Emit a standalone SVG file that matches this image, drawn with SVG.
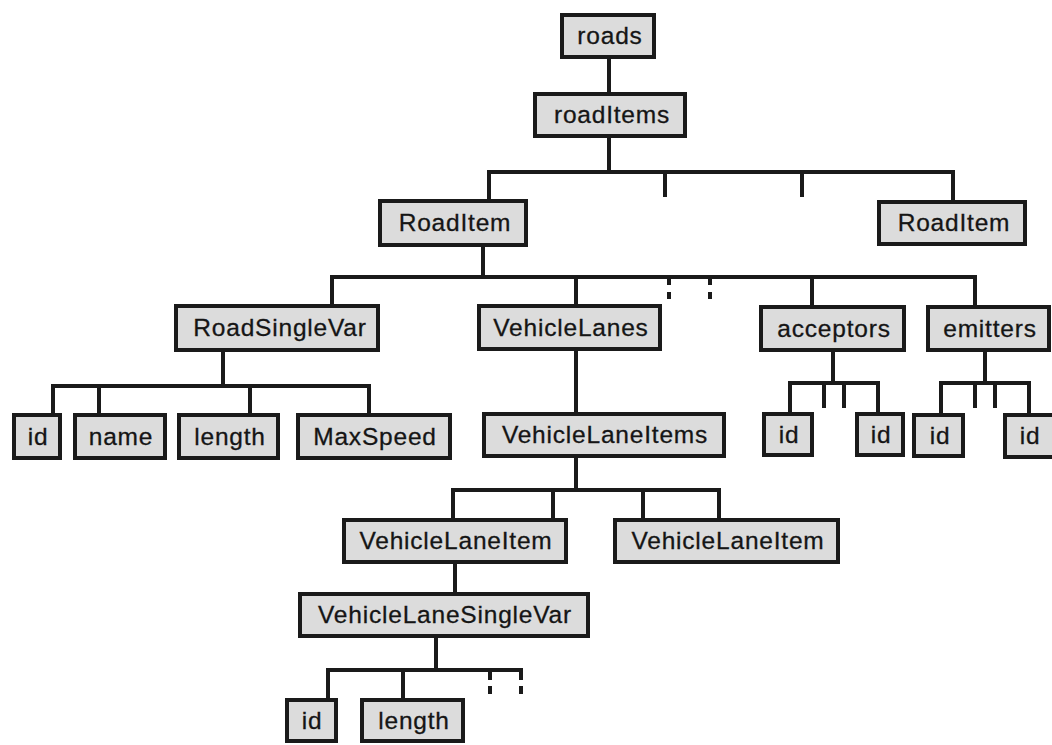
<svg xmlns="http://www.w3.org/2000/svg" width="1052" height="745" viewBox="0 0 1052 745">
<style>
.box{fill:#dcdcdc;stroke:#1a1a1a;stroke-width:4}
.lbl{font-family:"Liberation Sans",Arial,sans-serif;font-size:24.5px;letter-spacing:0.8px;fill:#151515;stroke:#151515;stroke-width:0.3;text-anchor:middle}
.c{stroke:#1a1a1a;stroke-width:4;fill:none;stroke-linecap:square}
.d{stroke:#1a1a1a;stroke-width:4;fill:none}
</style>
<rect width="1052" height="745" fill="#fff"/>
<g id="connectors">
<path class="c" d="M609 59V92M609 138V172M489 172H953M489 172V199M665 172V195M802 172V195M953 172V200"/>
<path class="c" d="M483 247V277M332 277H975M332 277V304M576 277V304M812 277V305M975 277V305"/>
<path class="d" d="M669 277V285M669 292V299M710 277V285M710 292V299"/>
<path class="c" d="M223 352V386M53 386H369M53 386V413M99 386V413M250 386V413M369 386V413"/>
<path class="c" d="M576 351V412M576 458V490M453 490H719M453 490V518M553 490V518M643 490V518M719 490V518"/>
<path class="c" d="M455 564V592M436 638V670M328 670H521M328 670V698M403 670V698"/>
<path class="d" d="M490 670V680M490 686V694M521 670V680M521 686V694"/>
<path class="c" d="M833 352V383M790 383H878M790 383V412M824 383V406M844 383V406M878 383V412"/>
<path class="c" d="M985 352V383M941 383H1029M941 383V413M975 383V406M995 383V406M1029 383V413"/>
</g>
<g id="n-roads"><rect class="box" x="562" y="15" width="92" height="42"/><text class="lbl" x="610" y="44">roads</text></g>
<g id="n-roadItems"><rect class="box" x="535" y="94" width="150" height="42"/><text class="lbl" x="612" y="123">roadItems</text></g>
<g id="n-roadItem1"><rect class="box" x="380" y="201" width="146" height="44"/><text class="lbl" x="455" y="231">RoadItem</text></g>
<g id="n-roadItem2"><rect class="box" x="879" y="202" width="146" height="42"/><text class="lbl" x="954" y="231">RoadItem</text></g>
<g id="n-roadSingleVar"><rect class="box" x="176" y="306" width="202" height="44"/><text class="lbl" x="280" y="336">RoadSingleVar</text></g>
<g id="n-vehicleLanes"><rect class="box" x="479" y="306" width="181" height="43"/><text class="lbl" x="571" y="336">VehicleLanes</text></g>
<g id="n-acceptors"><rect class="box" x="761" y="307" width="143" height="43"/><text class="lbl" x="834" y="337">acceptors</text></g>
<g id="n-emitters"><rect class="box" x="928" y="307" width="121" height="43"/><text class="lbl" x="990" y="337">emitters</text></g>
<g id="n-id1"><rect class="box" x="14" y="415" width="46" height="43"/><text class="lbl" x="38" y="445">id</text></g>
<g id="n-name"><rect class="box" x="75" y="415" width="90" height="43"/><text class="lbl" x="121" y="445">name</text></g>
<g id="n-length1"><rect class="box" x="179" y="415" width="99" height="43"/><text class="lbl" x="230" y="445">length</text></g>
<g id="n-maxSpeed"><rect class="box" x="298" y="415" width="152" height="43"/><text class="lbl" x="375" y="445">MaxSpeed</text></g>
<g id="n-vehicleLaneItems"><rect class="box" x="484" y="414" width="240" height="42"/><text class="lbl" x="605" y="443">VehicleLaneItems</text></g>
<g id="n-acc-id1"><rect class="box" x="764" y="414" width="48" height="41"/><text class="lbl" x="789" y="443">id</text></g>
<g id="n-acc-id2"><rect class="box" x="857" y="414" width="46" height="41"/><text class="lbl" x="881" y="443">id</text></g>
<g id="n-em-id1"><rect class="box" x="914" y="415" width="49" height="41"/><text class="lbl" x="940" y="444">id</text></g>
<g id="n-em-id2"><rect class="box" x="1005" y="415" width="56" height="42"/><text class="lbl" x="1030" y="444">id</text></g>
<g id="n-vehicleLaneItem1"><rect class="box" x="344" y="520" width="222" height="42"/><text class="lbl" x="456" y="549">VehicleLaneItem</text></g>
<g id="n-vehicleLaneItem2"><rect class="box" x="615" y="520" width="223" height="42"/><text class="lbl" x="728" y="549">VehicleLaneItem</text></g>
<g id="n-vehicleLaneSingleVar"><rect class="box" x="300" y="594" width="288" height="42"/><text class="lbl" x="445" y="623">VehicleLaneSingleVar</text></g>
<g id="n-id2"><rect class="box" x="287" y="700" width="49" height="41"/><text class="lbl" x="312" y="729">id</text></g>
<g id="n-length2"><rect class="box" x="362" y="700" width="101" height="41"/><text class="lbl" x="414" y="729">length</text></g>
</svg>
